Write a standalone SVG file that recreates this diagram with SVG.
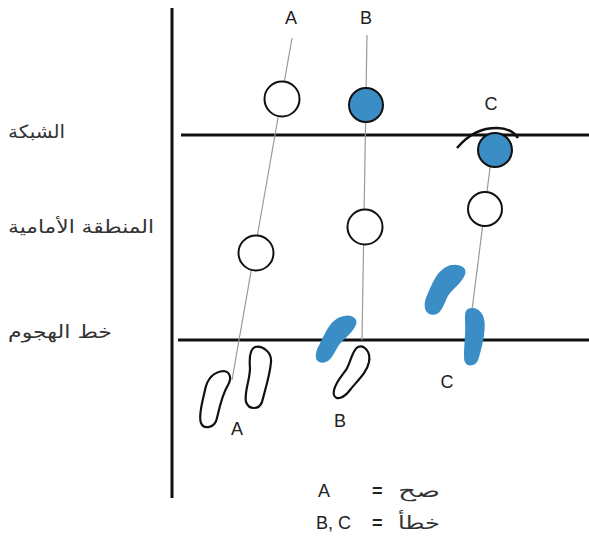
<svg xmlns="http://www.w3.org/2000/svg" width="589" height="543" viewBox="0 0 589 543">
<style>
.axis{stroke:#111;stroke-width:3;fill:none}
.path{stroke:#999;stroke-width:1.2;fill:none}
.ring{stroke:#111;stroke-width:2;fill:#fff}
.ball{stroke:#111;stroke-width:2;fill:#3b8dc6}
.foot{stroke:#111;stroke-width:2.2;fill:#fff}
.bfoot{fill:#3b8dc6;stroke:#3b8dc6;stroke-width:1.5;stroke-linejoin:round}
.lbl{font-family:"Liberation Sans",Arial,sans-serif;font-size:18px;fill:#222}
.ar{font-family:"DejaVu Sans","Noto Sans",sans-serif;font-size:18px;fill:#333}
</style>
<rect width="589" height="543" fill="#fff"/>
<g id="court">
<line class="axis" x1="172" y1="8" x2="172" y2="498"/>
<line class="axis" x1="181" y1="135" x2="589" y2="135"/>
<line class="axis" x1="178" y1="340" x2="589" y2="340"/>
</g>
<g id="labels-left">
<text class="ar" x="8" y="138" textLength="57" lengthAdjust="spacingAndGlyphs">الشبكة</text>
<text class="ar" x="8" y="233" textLength="146" lengthAdjust="spacingAndGlyphs">المنطقة الأمامية</text>
<text class="ar" x="8" y="338" textLength="104" lengthAdjust="spacingAndGlyphs">خط الهجوم</text>
</g>
<g id="connectors">
<line class="path" x1="292" y1="38" x2="232" y2="380"/>
<line class="path" x1="367" y1="35" x2="362" y2="340"/>
<line class="path" x1="491" y1="160" x2="472" y2="310"/>
</g>
<g id="node-A">
<text class="lbl" x="291" y="24" text-anchor="middle">A</text>
<circle class="ring" cx="282" cy="99" r="17.5"/>
<circle class="ring" cx="256" cy="253" r="17.5"/>
<path class="foot" d="M224 371 C230 372 232 378 228 385 C222 395 220 405 217 418 C215 428 204 430 201 423 C198 415 203 400 205 390 C207 380 212 372 224 371 Z"/>
<path class="foot" d="M255 347 C262 345 272 352 271 362 C270 375 265 390 262 402 C259 410 249 410 246 402 C244 392 250 380 250 368 C249 356 250 349 255 347 Z"/>
<text class="lbl" x="237" y="435" text-anchor="middle">A</text>
</g>
<g id="node-B">
<text class="lbl" x="366" y="24" text-anchor="middle">B</text>
<circle class="ball" cx="366" cy="105" r="17"/>
<circle class="ring" cx="365" cy="227" r="17.5"/>
<path class="bfoot" d="M340 318 C350 314 358 318 355 325 C352 333 343 338 338 345 C332 355 330 362 322 362 C314 361 316 352 320 345 C326 333 330 322 340 318 Z"/>
<path class="foot" d="M358 347 C364 344 371 352 369 362 C367 372 358 380 350 390 C344 398 336 401 334 395 C332 388 340 378 346 370 C351 362 352 350 358 347 Z"/>
<text class="lbl" x="340" y="427" text-anchor="middle">B</text>
</g>
<g id="node-C">
<text class="lbl" x="491" y="110" text-anchor="middle">C</text>
<circle class="ring" cx="485" cy="209" r="17"/>
<circle class="ball" cx="495" cy="150" r="17"/>
<path d="M457 148 C470 133 482 128 497 128 C507 128 514 132 518 138" fill="none" stroke="#111" stroke-width="2.5"/>
<path class="bfoot" d="M450 266 C460 264 467 268 464 275 C461 283 452 288 447 296 C443 305 440 315 432 314 C424 313 424 303 428 295 C433 283 438 270 450 266 Z"/>
<path class="bfoot" d="M470 309 C478 307 484 315 484 325 C484 340 480 350 478 358 C476 366 466 367 465 360 C464 350 466 340 466 328 C466 318 464 310 470 309 Z"/>
<text class="lbl" x="447" y="388" text-anchor="middle">C</text>
</g>
<g id="legend">
<text class="lbl" x="318" y="497" font-size="16">A</text>
<text class="lbl" x="372" y="497" font-size="17" font-weight="bold">=</text>
<text class="ar" x="398" y="497" textLength="42" lengthAdjust="spacingAndGlyphs">صح</text>
<text class="lbl" x="316" y="529" font-size="16">B, C</text>
<text class="lbl" x="372" y="529" font-size="17" font-weight="bold">=</text>
<text class="ar" x="398" y="529" textLength="42" lengthAdjust="spacingAndGlyphs">خطأ</text>
</g>
</svg>
